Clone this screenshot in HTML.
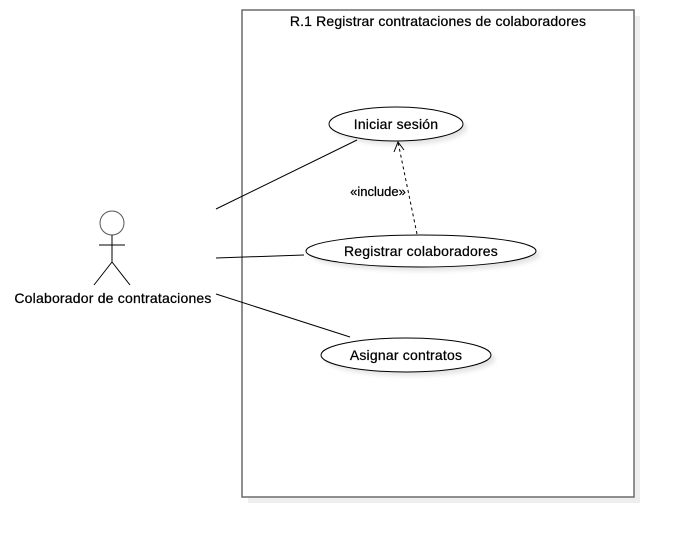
<!DOCTYPE html>
<html><head><meta charset="utf-8"><style>
html,body{margin:0;padding:0;background:#fff;width:674px;height:538px;overflow:hidden}
svg{display:block}
text{font-family:"Liberation Sans",Arial,sans-serif;fill:#000;stroke:#000;stroke-width:0.25}
</style></head><body>
<svg width="674" height="538" viewBox="0 0 674 538">
<defs><filter id="s" x="-20%" y="-20%" width="150%" height="150%"><feGaussianBlur stdDeviation="2"/></filter></defs>
<rect x="248" y="16" width="392" height="487" fill="#eeeeee"/>
<rect x="242" y="10" width="392" height="487" fill="#fff" stroke="#6b6b6b" stroke-width="1.5"/>
<text x="438" y="26" font-size="14" letter-spacing="0.15" text-anchor="middle">R.1 Registrar contrataciones de colaboradores</text>

<ellipse cx="400" cy="128" rx="67" ry="17" fill="#e4e4e4" filter="url(#s)"/>
<ellipse cx="425" cy="255" rx="115" ry="16" fill="#e4e4e4" filter="url(#s)"/>
<ellipse cx="410" cy="359" rx="85" ry="17" fill="#e4e4e4" filter="url(#s)"/>

<ellipse cx="396" cy="124" rx="67" ry="17" fill="#fff" stroke="#000" stroke-width="1"/>
<ellipse cx="421" cy="251" rx="115" ry="16" fill="#fff" stroke="#000" stroke-width="1"/>
<ellipse cx="406" cy="355" rx="85" ry="17" fill="#fff" stroke="#000" stroke-width="1"/>
<text x="396" y="129" font-size="14" letter-spacing="0.2" text-anchor="middle">Iniciar sesión</text>
<text x="421" y="256" font-size="14" letter-spacing="0.2" text-anchor="middle">Registrar colaboradores</text>
<text x="406" y="360" font-size="14" letter-spacing="0.2" text-anchor="middle">Asignar contratos</text>

<circle cx="112" cy="223" r="12" fill="#fff" stroke="#555" stroke-width="1"/>
<g stroke="#000" stroke-width="1" fill="none">
<line x1="112" y1="235" x2="112" y2="262"/>
<line x1="99" y1="245" x2="125" y2="245"/>
<line x1="112" y1="262" x2="94" y2="285"/>
<line x1="112" y1="262" x2="130" y2="285"/>
<line x1="216" y1="209" x2="357" y2="140"/>
<line x1="216" y1="258" x2="304" y2="255"/>
<line x1="216" y1="294" x2="350" y2="337"/>
<line x1="417" y1="234" x2="398" y2="142" stroke-dasharray="3,3"/>
<polyline points="394,152 398,142 404,150"/>
</g>
<text x="113" y="303" font-size="14" letter-spacing="0.2" text-anchor="middle">Colaborador de contrataciones</text>
<text x="378" y="196" font-size="13" text-anchor="middle" stroke-width="0">«include»</text>
</svg>
</body></html>
